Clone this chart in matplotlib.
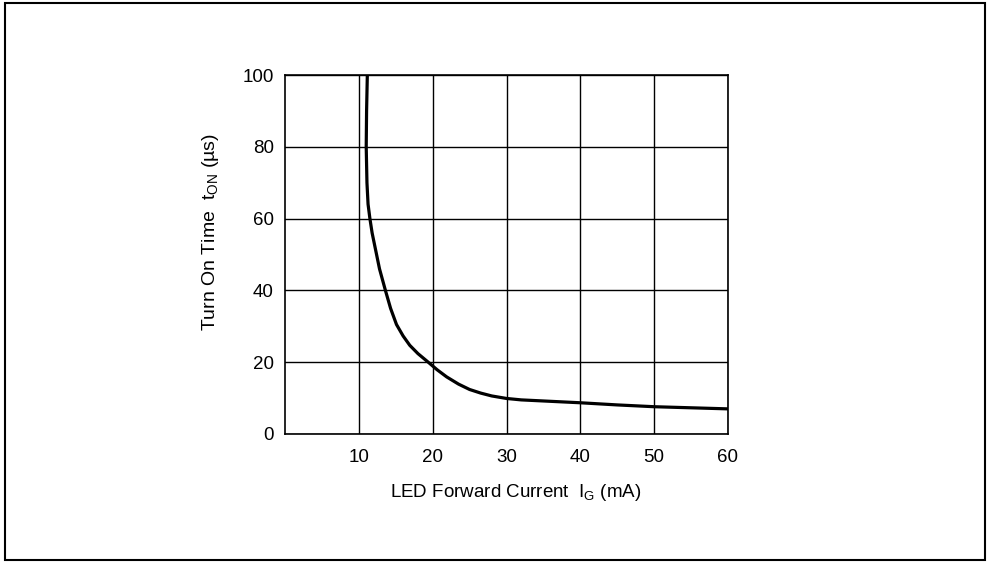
import matplotlib.pyplot as plt
from matplotlib.patches import Rectangle

plt.rcParams['font.family'] = ['Liberation Sans Narrow', 'Liberation Sans', 'DejaVu Sans']

# LED forward current (mA) vs turn-on time (us)
current_ma = [11.15, 11.05, 11.0, 11.1, 11.25, 11.5, 11.8, 12.2, 12.8, 13.6, 14.3,
              15.1, 16.0, 16.9, 18.0, 19.4, 20.6, 21.9, 23.5, 25.0, 26.5, 28.0,
              30.0, 32.0, 35.0, 40.0, 45.0, 50.0, 55.0, 60.0]
t_on_us = [100, 90, 80, 70, 64, 60, 56, 52, 46, 40, 35,
           30.5, 27.3, 24.7, 22.4, 20.0, 17.9, 15.9, 13.9, 12.4, 11.4, 10.6,
           9.9, 9.5, 9.2, 8.7, 8.1, 7.6, 7.3, 7.0]

x_ticks = [10, 20, 30, 40, 50, 60]
y_ticks = [0, 20, 40, 60, 80, 100]

fig = plt.figure(figsize=(9.88, 5.62), dpi=100)
ax = fig.add_axes([285 / 988, 1 - 434 / 562, 443 / 988, 359 / 562])

ax.plot(current_ma, t_on_us, color='black', lw=2.3, solid_capstyle='butt')

ax.set_xlim(0, 60)
ax.set_ylim(0, 100)
ax.set_xticks(x_ticks)
ax.set_yticks(y_ticks)
ax.grid(True, color='black', lw=1.0)
ax.tick_params(length=0, labelsize=13.5)
ax.tick_params(axis='x', pad=11)
ax.tick_params(axis='y', pad=8)
for s in ax.spines.values():
    s.set_linewidth(1.2)

ax.set_xlabel(r'LED Forward Current  $\mathregular{I_G}$ (mA)', fontsize=13.5)
ax.set_ylabel(r'Turn On Time  $\mathregular{t_{ON}}$ (µs)', fontsize=14)
ax.xaxis.set_label_coords(0.521, -0.134)
ax.yaxis.set_label_coords(-0.144, 0.563)

# outer frame around the whole figure
fig.patches.append(Rectangle((5 / 988, 2 / 562), 980 / 988, 557 / 562,
                             transform=fig.transFigure, fill=False,
                             edgecolor='black', lw=1.5))

fig.savefig('out.png', dpi=100)
